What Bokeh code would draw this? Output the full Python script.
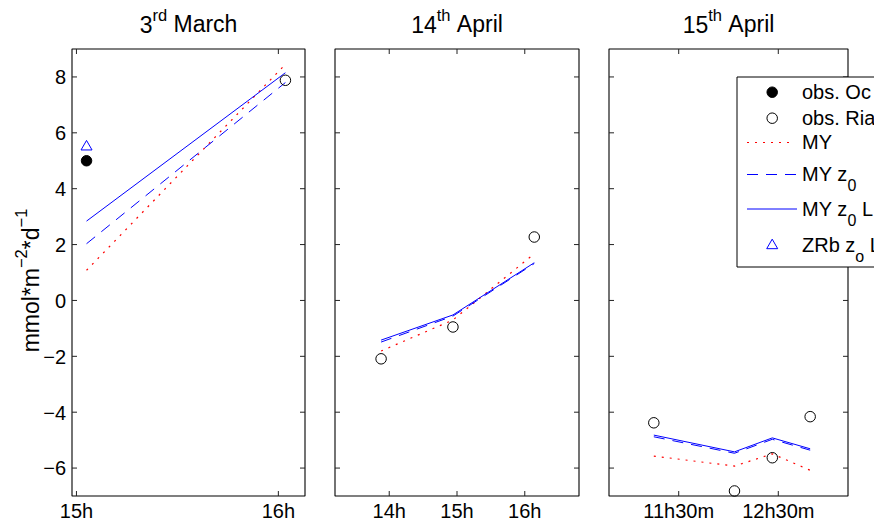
import math
from bokeh.plotting import figure
from bokeh.models import Range1d
from bokeh.layouts import row
from bokeh.core.properties import value
from bokeh.embed import file_html
from bokeh.resources import INLINE

# ---------------- data ----------------
y_ticks = [-6, -4, -2, 0, 2, 4, 6, 8]
y_tick_labels = ["\u22126", "\u22124", "\u22122", "0", "2", "4", "6", "8"]

# panel 1 : 3rd March
mar_x_ticks = [15, 16]
mar_x_labels = ["15h", "16h"]
mar_t_model = [15.05, 16.035]
mar_MY = [1.08, 8.45]
mar_MYz0 = [2.03, 7.80]
mar_MYz0L = [2.84, 8.15]
mar_t_ocean = [15.05]
mar_obs_ocean = [5.0]
mar_t_ria = [16.035]
mar_obs_ria = [7.88]
mar_t_zrb = [15.05]
mar_ZRb = [5.5]

# panel 2 : 14th April
a14_x_ticks = [14, 15, 16]
a14_x_labels = ["14h", "15h", "16h"]
a14_t = [13.88, 14.94, 16.14]
a14_obs_ria = [-2.09, -0.95, 2.27]
a14_MY = [-1.81, -0.70, 1.67]
a14_MYz0 = [-1.49, -0.56, 1.32]
a14_MYz0L = [-1.42, -0.52, 1.35]

# panel 3 : 15th April
a15_x_ticks = [11.5, 12.5]
a15_x_labels = ["11h30m", "12h30m"]
a15_t = [11.25, 12.06, 12.44, 12.82]
a15_obs_ria = [-4.38, -6.82, -5.63, -4.16]
a15_MY = [-5.57, -5.93, -5.49, -6.08]
a15_MYz0 = [-4.88, -5.47, -4.97, -5.36]
a15_MYz0L = [-4.82, -5.42, -4.92, -5.31]

titles = [("3", "rd", "March"), ("14", "th", "April"), ("15", "th", "April")]
ylabel_parts = [("mmol*m", False), ("\u22122", True), ("*d", False), ("\u22121", True)]
# visible part of the legend (the reference legend runs off the right edge)
legend_entries = [("obs. Oc", None, ""), ("obs. Ria", None, ""), ("MY", None, ""),
                  ("MY z", "0", ""), ("MY z", "0", "L"), ("ZRb z", "o", "L")]

# ---------------- styling / layout ----------------
FONT = "Liberation Sans"
H = 529
BOX_T, BOX_B = 48.5, 495.5
Y0, Y1 = -7, 9
RED = "#ff0000"
BLUE = "#0000ff"
DOT = "2 6"
DASH = "11 8"
TICK = 5
TICK_FS = 20
BL_SHIFT = 0.34   # empirical baseline correction (em)

ADV = {'0': 556, '1': 556, '2': 556, '3': 556, '4': 556, '5': 556, '6': 556, '7': 556,
       '8': 556, '9': 556, 'r': 333, 'd': 556, ' ': 278, 'M': 833, 'a': 556, 'c': 500,
       'h': 556, 't': 278, 'A': 667, 'p': 556, 'i': 222, 'l': 222, 'm': 833, 'o': 556,
       '*': 389, '\u2212': 584, 'Y': 667, 'z': 500, 'L': 556, 'Z': 611, 'R': 722,
       'b': 556, 'O': 778, 's': 500, '.': 278, 'e': 556, 'n': 556}


def tw(s, size):
    return sum(ADV.get(c, 556) for c in s) * size / 1000.0


panels = [
    dict(w=320, page0=0, fl=71.5, fr=304.5, xr=(14.978, 16.132)),
    dict(w=273, page0=320, fl=334.5, fr=578.5, xr=(13.2, 16.8)),
    dict(w=281, page0=593, fl=608.5, fr=847.5, xr=(10.8, 13.2)),
]


def make_fig(pan, xticks, xlabels, show_ylabels):
    x0, x1 = pan['xr']
    kx = (x1 - x0) / (pan['fr'] - pan['fl'])
    ky = (Y1 - Y0) / (BOX_B - BOX_T)

    def X(px):
        return x0 + (px - pan['fl']) * kx

    def Y(py):
        return Y1 - (py - BOX_T) * ky

    p = figure(width=pan['w'], height=H,
               x_range=Range1d(X(pan['page0']), X(pan['page0'] + pan['w'])),
               y_range=Range1d(Y(H), Y(0)),
               output_backend="svg", toolbar_location=None,
               x_axis_location=None, y_axis_location=None, title=None,
               min_border_left=0, min_border_right=0, min_border_top=0,
               min_border_bottom=0)
    p.outline_line_color = None
    p.background_fill_color = "white"
    p.border_fill_color = "white"
    p.xgrid.visible = False
    p.ygrid.visible = False

    # axes box (MATLAB style, box on)
    p.quad(left=[x0], right=[x1], bottom=[Y0], top=[Y1], fill_color=None,
           line_color="black", line_width=1.1)
    n, m = len(xticks), len(y_ticks)
    tcol = "#222222"
    p.segment(x0=xticks, y0=[Y0] * n, x1=xticks, y1=[Y0 + TICK * ky] * n,
              line_color=tcol, line_width=1)
    p.segment(x0=xticks, y0=[Y1] * n, x1=xticks, y1=[Y1 - TICK * ky] * n,
              line_color=tcol, line_width=1)
    p.segment(x0=[x0] * m, y0=y_ticks, x1=[x0 + TICK * kx] * m, y1=y_ticks,
              line_color=tcol, line_width=1)
    p.segment(x0=[x1] * m, y0=y_ticks, x1=[x1 - TICK * kx] * m, y1=y_ticks,
              line_color=tcol, line_width=1)
    # tick labels
    sh = BL_SHIFT * TICK_FS
    p.text(x=xticks, y=[Y(517.5 - sh)] * n, text=xlabels, text_align="center",
           text_baseline="alphabetic", text_font=value(FONT),
           text_font_size=f"{TICK_FS}px", text_color="black")
    if show_ylabels:
        cap_mid = 0.358 * TICK_FS
        p.text(x=[X(pan['fl'] - 6)] * m,
               y=[v - (cap_mid - sh) * ky for v in y_ticks],
               text=y_tick_labels, text_align="right", text_baseline="alphabetic",
               text_font=value(FONT), text_font_size=f"{TICK_FS}px",
               text_color="black")

    p._X, p._Y = X, Y
    p._center = (pan['fl'] + pan['fr']) / 2.0
    return p


def label(p, px, py, text, size, angle=0.0):
    """Place text with its alphabetic baseline at page position (px, py)."""
    sh = BL_SHIFT * size
    if angle:
        px -= sh
    else:
        py -= sh
    p.text(x=[p._X(px)], y=[p._Y(py)], text=[text], text_font=value(FONT),
           text_font_size=f"{size}px", text_color="black", text_align="left",
           text_baseline="alphabetic", angle=angle)


def add_title(p, parts):
    main1, sup, main2 = parts
    MS, SS = 23, 16.5
    total = tw(main1, MS) + tw(sup, SS) + tw(" " + main2, MS)
    x = p._center - total / 2.0
    label(p, x, 31.5, main1, MS)
    x += tw(main1, MS)
    label(p, x, 20.5, sup, SS)
    x += tw(sup, SS) + tw(" ", MS)
    label(p, x, 31.5, main2, MS)


def lines(p, t, my, myz0, myz0l):
    p.line(t, my, line_color=RED, line_width=1.2, line_dash=DOT)
    p.line(t, myz0, line_color=BLUE, line_width=1, line_dash=DASH)
    p.line(t, myz0l, line_color=BLUE, line_width=1)


def open_circles(p, t, v):
    p.scatter(t, v, marker="circle", size=10.5, line_color="black", line_width=1,
              fill_color=None)


# ---------- panel 1 ----------
p1 = make_fig(panels[0], mar_x_ticks, mar_x_labels, True)
lines(p1, mar_t_model, mar_MY, mar_MYz0, mar_MYz0L)
p1.scatter(mar_t_ocean, mar_obs_ocean, marker="circle", size=10.5, line_color="black",
           fill_color="black")
open_circles(p1, mar_t_ria, mar_obs_ria)
p1.scatter(mar_t_zrb, mar_ZRb, marker="triangle", size=11, line_color=BLUE,
           fill_color=None, line_width=1)
add_title(p1, titles[0])

# y axis label with superscripts (rotated)
MS, SS = 23, 16.5
total = sum(tw(s, SS if sup else MS) for s, sup in ylabel_parts)
sy = 280 + total / 2.0
for s, sup in ylabel_parts:
    size = SS if sup else MS
    label(p1, 26.5 if sup else 38.5, sy, s, size, angle=math.pi / 2)
    sy -= tw(s, size)

# ---------- panel 2 ----------
p2 = make_fig(panels[1], a14_x_ticks, a14_x_labels, False)
lines(p2, a14_t, a14_MY, a14_MYz0, a14_MYz0L)
open_circles(p2, a14_t, a14_obs_ria)
add_title(p2, titles[1])

# ---------- panel 3 ----------
p3 = make_fig(panels[2], a15_x_ticks, a15_x_labels, False)
lines(p3, a15_t, a15_MY, a15_MYz0, a15_MYz0L)
open_circles(p3, a15_t, a15_obs_ria)
add_title(p3, titles[2])

# ---------- legend (manual, runs off the right edge like the reference) ----------
X, Y = p3._X, p3._Y
p3.quad(left=[X(736.5)], right=[X(1000)], top=[Y(76.5)], bottom=[Y(266.5)],
        fill_color="white", line_color="black", line_width=1)
row_y = [91.7, 117.7, 142.0, 174.0, 208.5, 245.0]
mx = 771.7
p3.scatter([X(mx)], [Y(row_y[0])], marker="circle", size=10.5, line_color="black",
           fill_color="black")
p3.scatter([X(mx)], [Y(row_y[1])], marker="circle", size=10.5, line_color="black",
           fill_color=None)
p3.line([X(746.5), X(794)], [Y(row_y[2])] * 2, line_color=RED, line_width=1.2,
        line_dash=DOT)
p3.line([X(746.5), X(796.5)], [Y(row_y[3])] * 2, line_color=BLUE, line_width=1,
        line_dash=DASH)
p3.line([X(746.5), X(796.5)], [Y(row_y[4])] * 2, line_color=BLUE, line_width=1)
p3.scatter([X(mx)], [Y(row_y[5])], marker="triangle", size=11, line_color=BLUE,
           fill_color=None)

LS, LSS = 20, 16
for (main, sub, tail), ry in zip(legend_entries, row_y):
    base = ry + 6.5
    x = 801.5
    label(p3, x, base, main, LS)
    if sub is not None:
        x += tw(main, LS)
        label(p3, x, base + 9.5, sub, LSS)
        x += tw(sub, LSS) + tw(" ", LS)
        if tail:
            label(p3, x, base, tail, LS)

layout = row(p1, p2, p3, spacing=0)
open("out.html", "w").write(file_html(layout, INLINE))
